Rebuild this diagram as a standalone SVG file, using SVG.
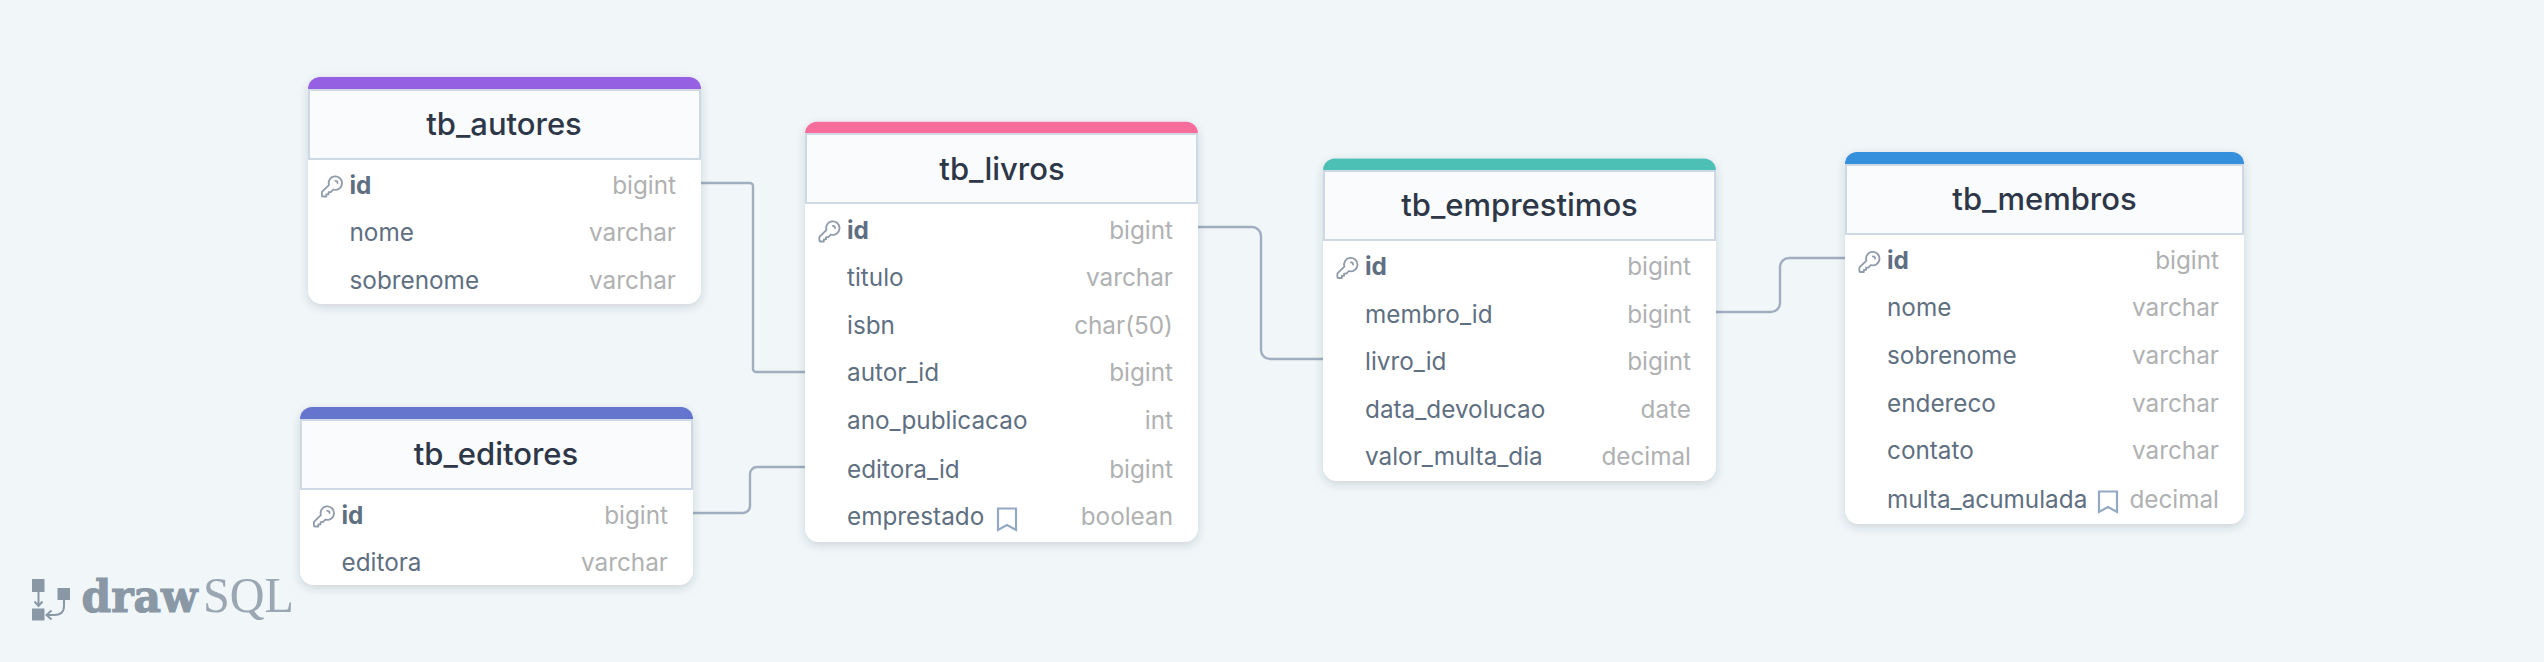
<svg xmlns="http://www.w3.org/2000/svg" width="2544" height="662" viewBox="0 0 2544 662">
<style>
text{font-family:Inter,"Noto Sans",sans-serif}
.t{font-size:31px;font-weight:450;fill:#2d3748;text-anchor:middle}
.c{font-size:24.3px;fill:#5f6f82}
.pk{font-size:24.3px;font-weight:700;fill:#5f6f82}
.y{font-size:24.3px;fill:#b0b1b2;text-anchor:end}
.body{fill:#fff;filter:url(#sh)}
.head{fill:#f9fbfd;stroke:#cfd9e5;stroke-width:2}
.conn{fill:none;stroke:#a0aec0;stroke-width:2.4}
.key{fill:none;stroke:#8f9bab;stroke-width:1.600;stroke-linecap:round;stroke-linejoin:round}
.bm{fill:none;stroke:#94a8c4;stroke-width:2.2}
.lg{fill:#8a98a6}
.la{fill:none;stroke:#8a98a6;stroke-width:2}
</style>
<defs>
<filter id="sh" x="-10%" y="-10%" width="120%" height="125%"><feDropShadow dx="0" dy="3" stdDeviation="5" flood-color="#2d3748" flood-opacity="0.18"/></filter>
<path id="k" d="M15 7a2 2 0 012 2m4 0a6 6 0 01-7.743 5.743L11 17H9v2H7v2H4a1 1 0 01-1-1v-2.586a1 1 0 01.293-.707l5.964-5.964A6 6 0 1121 9z" transform="scale(1.12)"/>
</defs>
<rect width="2544" height="662" fill="#f1f6f9"/>
<g id="connectors">
<path class="conn" d="M701 183H750a3 3 0 0 1 3 3V369a3 3 0 0 0 3 3H805"/>
<path class="conn" d="M692 513H743a7 7 0 0 0 7-7V474a7 7 0 0 1 7-7H805"/>
<path class="conn" d="M1198 227H1252a9 9 0 0 1 9 9V350a9 9 0 0 0 9 9H1323"/>
<path class="conn" d="M1716 312H1771a9 9 0 0 0 9-9V267a9 9 0 0 1 9-9H1845"/>
</g>
<g id="tb_autores">
<rect class="body" x="308" y="77" width="393" height="227" rx="14"/>
<path fill="#9561e2" d="M308 90V89a12 12 0 0 1 12-12H689a12 12 0 0 1 12 12V90Z"/>
<rect class="head" x="309" y="90" width="391" height="69"/>
<text class="t" x="504" y="135">tb_autores</text>
<use href="#k" class="key" x="318.500" y="173"/>
<text class="pk" x="349.500" y="194">id</text><text class="y" x="676" y="194">bigint</text>
<text class="c" x="349.500" y="241">nome</text><text class="y" x="676" y="241">varchar</text>
<text class="c" x="349.500" y="288.500">sobrenome</text><text class="y" x="676" y="288.500">varchar</text>
</g>
<g id="tb_editores">
<rect class="body" x="300" y="407" width="393" height="178" rx="14"/>
<path fill="#6574cd" d="M300 420V419a12 12 0 0 1 12-12H681a12 12 0 0 1 12 12V420Z"/>
<rect class="head" x="301" y="420" width="391" height="69"/>
<text class="t" x="496" y="465">tb_editores</text>
<use href="#k" class="key" x="310.500" y="503"/>
<text class="pk" x="341.500" y="524">id</text><text class="y" x="668" y="524">bigint</text>
<text class="c" x="341.500" y="571">editora</text><text class="y" x="668" y="571">varchar</text>
</g>
<g id="tb_livros">
<rect class="body" x="805" y="121.700" width="393" height="420.300" rx="14"/>
<path fill="#f66d9b" d="M805 134V133.700a12 12 0 0 1 12-12H1186a12 12 0 0 1 12 12V134Z"/>
<rect class="head" x="806" y="134" width="391" height="69"/>
<text class="t" x="1002" y="180">tb_livros</text>
<use href="#k" class="key" x="816" y="218"/>
<text class="pk" x="847" y="239">id</text><text class="y" x="1173" y="239">bigint</text>
<text class="c" x="847" y="286">titulo</text><text class="y" x="1173" y="286">varchar</text>
<text class="c" x="847" y="333.500">isbn</text><text class="y" x="1173" y="333.500">char(50)</text>
<text class="c" x="847" y="381">autor_id</text><text class="y" x="1173" y="381">bigint</text>
<text class="c" x="847" y="429">ano_publicacao</text><text class="y" x="1173" y="429">int</text>
<text class="c" x="847" y="478">editora_id</text><text class="y" x="1173" y="478">bigint</text>
<text class="c" x="847" y="525">emprestado</text><text class="y" x="1173" y="525">boolean</text>
<path class="bm" d="M998 530V508.500H1016V530L1007 525Z"/>
</g>
<g id="tb_emprestimos">
<rect class="body" x="1323" y="158.500" width="393" height="322.500" rx="14"/>
<path fill="#4dc0b5" d="M1323 171V170.500a12 12 0 0 1 12-12H1704a12 12 0 0 1 12 12V171Z"/>
<rect class="head" x="1324" y="171" width="391" height="69"/>
<text class="t" x="1519.500" y="216">tb_emprestimos</text>
<use href="#k" class="key" x="1334" y="254.500"/>
<text class="pk" x="1365" y="275">id</text><text class="y" x="1691" y="275">bigint</text>
<text class="c" x="1365" y="323">membro_id</text><text class="y" x="1691" y="323">bigint</text>
<text class="c" x="1365" y="370">livro_id</text><text class="y" x="1691" y="370">bigint</text>
<text class="c" x="1365" y="418">data_devolucao</text><text class="y" x="1691" y="418">date</text>
<text class="c" x="1365" y="465">valor_multa_dia</text><text class="y" x="1691" y="465">decimal</text>
</g>
<g id="tb_membros">
<rect class="body" x="1845" y="152" width="399" height="372" rx="14"/>
<path fill="#3490dc" d="M1845 165V164a12 12 0 0 1 12-12H2232a12 12 0 0 1 12 12V165Z"/>
<rect class="head" x="1846" y="165" width="397" height="69"/>
<text class="t" x="2044.500" y="210">tb_membros</text>
<use href="#k" class="key" x="1856" y="248.500"/>
<text class="pk" x="1887" y="269">id</text><text class="y" x="2219" y="269">bigint</text>
<text class="c" x="1887" y="316">nome</text><text class="y" x="2219" y="316">varchar</text>
<text class="c" x="1887" y="364">sobrenome</text><text class="y" x="2219" y="364">varchar</text>
<text class="c" x="1887" y="412">endereco</text><text class="y" x="2219" y="412">varchar</text>
<text class="c" x="1887" y="459">contato</text><text class="y" x="2219" y="459">varchar</text>
<text class="c" x="1887" y="508">multa_acumulada</text><text class="y" x="2219" y="508">decimal</text>
<path class="bm" d="M2099 512V491.500H2117V512L2108 507Z"/>
</g>
<g id="logo">
<rect class="lg" x="32" y="579" width="12.500" height="13"/>
<rect class="lg" x="32" y="608.500" width="12.500" height="12"/>
<rect class="lg" x="57.500" y="588" width="12.500" height="12"/>
<path class="la" d="M38.500 592V605M34.500 601.500L38.500 606L42.500 601.500M64 600V606Q64 615 54 615H47M51.500 610.500L46.500 615L51.500 619.500"/>
<text x="81.500" y="611.500" font-size="45" font-weight="700" textLength="116" lengthAdjust="spacingAndGlyphs" style="font-family:'DejaVu Serif',serif" fill="#8a98a6" stroke="#8a98a6" stroke-width="1.200">draw</text>
<text x="203" y="611.500" font-size="50" textLength="91" lengthAdjust="spacingAndGlyphs" style="font-family:'Liberation Serif',serif" fill="#9aa6b2">SQL</text>
</g>
</svg>
